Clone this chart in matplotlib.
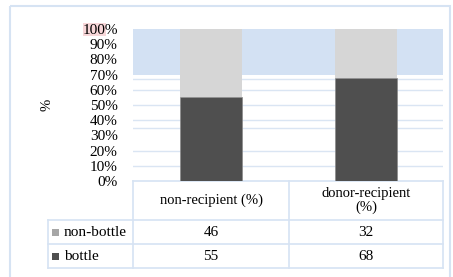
import numpy as np
import matplotlib.pyplot as plt
from matplotlib.patches import Rectangle

plt.rcParams['font.family'] = ['Liberation Serif', 'DejaVu Serif']

categories = ['non-recipient (%)', 'donor-recipient\n(%)']
series = ['non-bottle', 'bottle']
bottle = [55, 68]
non_bottle = [46, 32]
yticks = [0, 10, 20, 30, 40, 50, 60, 70, 80, 90, 100]

W, H = 453, 277
fig = plt.figure(figsize=(W / 100, H / 100), dpi=100)

# background overlay axes in pixel coordinates
bg = fig.add_axes([0, 0, 1, 1])
bg.set_xlim(0, W)
bg.set_ylim(H, 0)
bg.axis('off')
line_c = '#d6e3f3'
bg.add_patch(Rectangle((10, 6), 440, 280, fill=False, ec=line_c, lw=1.5))
bg.add_patch(Rectangle((83, 23), 23, 13, color='#f8d7d9', lw=0))

# chart axes
ax = fig.add_axes([133 / W, 1 - 181 / H, 310 / W, 152 / H])
ax.set_zorder(2)
ax.patch.set_alpha(0)
x = np.arange(len(categories))
bot = np.array(bottle) / 100
non = np.array(non_bottle) / 100
ax.axhspan(0.7, 1.0, color='#d3e1f3', lw=0, zorder=0)
for g in [0.1, 0.2, 0.35, 0.4, 0.5, 0.6, 0.67]:
    ax.axhline(g, color='#dae5f3', lw=1, zorder=1)
ax.bar(x, bot, width=0.4, color='#4f4f4f', edgecolor='#8a8a8a', lw=0.5, zorder=3)
ax.bar(x, 1 - bot, bottom=bot, width=0.4, color='#d6d6d6', lw=0, zorder=3)
ax.set_xlim(-0.5, 1.5)
ax.set_ylim(0, 1)
ax.set_yticks(np.array(yticks) / 100)
ax.set_yticklabels([f'{t}%' for t in yticks], fontsize=11)
ax.tick_params(axis='y', length=0, pad=11)
ax.set_xticks([])
for s in ax.spines.values():
    s.set_visible(False)
fig.text(47 / W, 1 - 105 / H, '%', rotation=90, fontsize=10.5, ha='center', va='center')

# data table
col_x = [48, 133, 289, 443]
row_y = [181, 220, 244, 268]
kw = dict(color=line_c, lw=1.2)
bg.plot([133, 443], [181, 181], **kw)
for yy in row_y[1:]:
    bg.plot([48, 443], [yy, yy], **kw)
bg.plot([48, 48], [220, 268], **kw)
for xx in col_x[1:]:
    bg.plot([xx, xx], [181, 268], **kw)

for i, c in enumerate(categories):
    cx = (col_x[i + 1] + col_x[i + 2]) / 2
    bg.text(cx, 200, c, ha='center', va='center', fontsize=10.5, linespacing=1.05)

rows = [non_bottle, bottle]
marks = ['#a6a6a6', '#4f4f4f']
for r, (name, vals) in enumerate(zip(series, rows)):
    cy = (row_y[r + 1] + row_y[r + 2]) / 2
    bg.add_patch(Rectangle((52, cy - 3.5), 7, 7, color=marks[r], lw=0))
    bg.text(64, cy, name, ha='left', va='center', fontsize=11)
    for i, v in enumerate(vals):
        cx = (col_x[i + 1] + col_x[i + 2]) / 2
        bg.text(cx, cy, str(v), ha='center', va='center', fontsize=11)

fig.savefig('out.png', dpi=100)
